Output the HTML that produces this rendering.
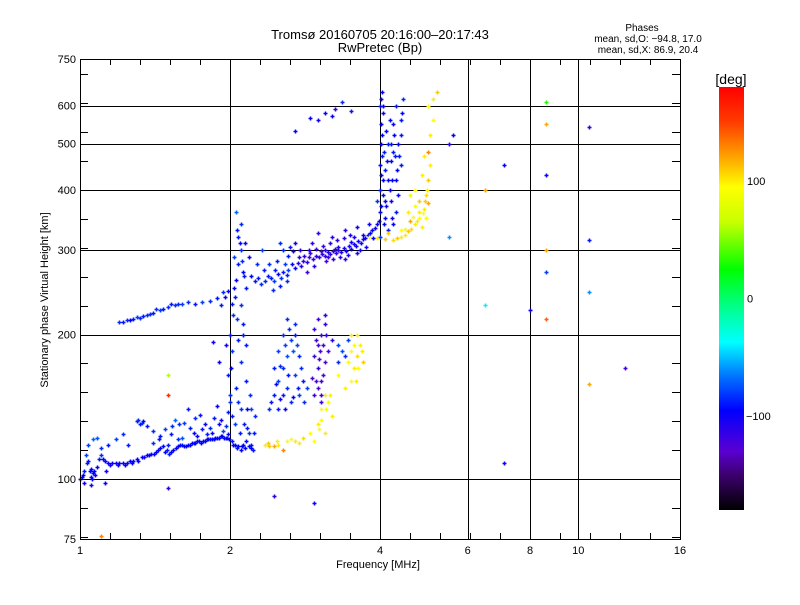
<!DOCTYPE html>
<html><head><meta charset="utf-8">
<style>
body{margin:0;background:#fff;}
svg text{font-family:"Liberation Sans",sans-serif;fill:#000;}
</style></head>
<body>
<svg id="chart" width="800" height="600" viewBox="0 0 800 600" xmlns="http://www.w3.org/2000/svg">
<defs>
<linearGradient id="cbgrad" x1="0" y1="1" x2="0" y2="0">
<stop offset="0" stop-color="rgb(0,0,0)"/>
<stop offset="0.083" stop-color="rgb(60,0,110)"/>
<stop offset="0.139" stop-color="rgb(90,0,210)"/>
<stop offset="0.236" stop-color="rgb(0,0,255)"/>
<stop offset="0.319" stop-color="rgb(0,120,255)"/>
<stop offset="0.397" stop-color="rgb(0,255,255)"/>
<stop offset="0.472" stop-color="rgb(0,255,150)"/>
<stop offset="0.569" stop-color="rgb(0,255,0)"/>
<stop offset="0.681" stop-color="rgb(200,255,0)"/>
<stop offset="0.764" stop-color="rgb(255,255,0)"/>
<stop offset="0.833" stop-color="rgb(255,165,0)"/>
<stop offset="0.917" stop-color="rgb(255,60,0)"/>
<stop offset="1" stop-color="rgb(255,0,0)"/>
</linearGradient>
</defs>
<text x="380" y="39" font-size="13" text-anchor="middle">Tromsø 20160705 20:16:00–20:17:43</text>
<text x="380" y="52" font-size="13" text-anchor="middle">RwPretec (Bp)</text>
<text x="642" y="31" font-size="10" text-anchor="middle">Phases</text>
<text x="648" y="42" font-size="10" text-anchor="middle">mean, sd,O: −94.8, 17.0</text>
<text x="648" y="53" font-size="10" text-anchor="middle">mean, sd,X:  86.9, 20.4</text>
<g id="grid"></g>
<g id="points"></g>
<g id="axes"></g>
<text x="378" y="568" font-size="11" text-anchor="middle">Frequency [MHz]</text>
<text transform="translate(48,300) rotate(-90)" font-size="11" text-anchor="middle">Stationary phase Virtual Height [km]</text>
<rect x="719" y="87" width="25" height="423" fill="url(#cbgrad)"/>
<text x="731" y="84" font-size="14" text-anchor="middle">[deg]</text>
<g id="cbticks"></g>
</svg>
<script>
const xTickLabels = [1, 2, 4, 6, 8, 10, 16];
const xGridValues = [2, 4, 6, 8, 10];
const yTickLabels = [75, 100, 200, 300, 400, 500, 600, 750];
const yGridValues = [100, 200, 300, 400, 500, 600];
const colorbarTicks = [100, 0, -100];

// [frequency MHz, height km, phase deg]
const lowerTrace = [[1.00,100,-95],[1.01,101,-95],[1.02,104,-90],[1.03,112,-80],[1.04,109,-90],[1.05,105,-95],[1.06,103,-95],[1.07,102,-100],[1.08,106,-95],[1.09,110,-90],[1.10,112,-85],[1.12,109,-95],[1.14,108,-100],[1.16,108,-100],[1.18,108,-100],[1.20,108,-100],[1.22,108,-100],[1.24,108,-95],[1.26,109,-95],[1.28,109,-100],[1.30,110,-95],[1.33,111,-95],[1.36,112,-95],[1.39,113,-100],[1.42,114,-95],[1.45,116,-95],[1.48,114,-95],[1.51,113,-90],[1.54,115,-95],[1.57,117,-95],[1.60,118,-90],[1.63,117,-95],[1.66,118,-95],[1.69,119,-95],[1.72,120,-95],[1.75,119,-95],[1.78,120,-95],[1.81,121,-95],[1.84,121,-95],[1.87,122,-95],[1.90,122,-95],[1.93,123,-95],[1.96,122,-95],[1.99,121,-95],[2.02,120,-90],[2.05,118,-95],[2.08,117,-95],[2.11,117,-95],[1.04,118,-80],[1.06,121,-70],[1.08,122,-75],[1.02,98,-100],[1.05,101,-95],[1.13,104,-100]];
const lowerTraceFill = [[1.015,102,-95],[1.035,108,-90],[1.045,104,-95],[1.055,100,-95],[1.065,104,-95],[1.11,110,-95],[1.15,107,-100],[1.19,107,-100],[1.23,107,-100],[1.27,108,-95],[1.31,109,-95],[1.345,111,-100],[1.375,112,-95],[1.405,113,-95],[1.435,115,-95],[1.465,117,-95],[1.495,115,-90],[1.525,114,-95],[1.555,116,-95],[1.585,118,-95],[1.615,117,-95],[1.645,118,-95],[1.675,119,-95],[1.705,119,-95],[1.735,120,-95],[1.765,120,-95],[1.795,121,-95],[1.825,121,-95],[1.855,121,-95],[1.885,122,-95],[1.915,123,-95],[1.945,122,-95],[1.975,122,-95],[2.03,118,-95],[2.07,116,-90],[2.10,115,-95],[2.14,116,-95],[2.18,117,-95],[2.20,118,-90]];
const upperScatter = [[1.10,116,-85],[1.14,118,-90],[1.18,121,-80],[1.22,124,-85],[1.25,118,-90],[1.30,132,-90],[1.33,131,-80],[1.36,129,-90],[1.40,126,-85],[1.44,121,-90],[1.48,127,-80],[1.52,124,-90],[1.55,133,-70],[1.58,130,-85],[1.62,131,-80],[1.66,128,-90],[1.70,134,-85],[1.74,136,-90],[1.78,130,-100],[1.82,128,-85],[1.86,134,-90],[1.90,130,-95],[1.94,126,-80],[1.98,138,-90],[2.00,145,-85],[1.60,122,-75],[1.72,123,-95],[1.84,125,-100],[1.50,118,-90],[1.40,119,-85],[1.65,140,-90],[1.88,142,-95],[1.31,133,-85],[1.32,130,-90],[1.34,132,-95],[1.53,129,-85],[1.69,125,-95],[1.76,127,-90],[1.92,133,-100],[1.96,129,-85],[2.02,135,-90],[1.45,123,-90],[1.57,121,-85],[1.80,124,-90],[1.98,124,-100]];
const verticalTrace = [[2.00,150,-85],[1.98,165,-90],[2.02,185,-80],[2.00,200,-90],[2.03,220,-85],[2.05,240,-90],[2.06,260,-95],[2.08,280,-90],[2.10,300,-85],[2.08,320,-90],[2.10,340,-85],[2.06,360,-70],[2.12,270,-95],[2.15,250,-90],[2.10,230,-85],[2.12,210,-90],[2.15,190,-90],[2.10,175,-85],[2.15,160,-90],[2.20,140,-80],[2.18,125,-85],[2.12,118,-95],[2.20,116,-95],[2.25,135,-85],[2.22,115,-90],[2.16,128,-90],[2.05,130,-80],[2.08,145,-85],[2.12,200,-90],[2.04,290,-80],[2.14,310,-95],[1.95,240,-95],[1.92,230,-90],[1.96,190,-100],[1.90,175,-100],[2.18,290,-95],[2.07,330,-90],[2.09,310,-95],[2.11,285,-85],[2.13,265,-90],[2.04,250,-95],[2.02,232,-90],[2.07,215,-85],[2.01,170,-95],[2.06,155,-90],[2.10,140,-85],[2.13,130,-90],[2.16,140,-95],[2.19,150,-85],[2.23,125,-90],[2.15,120,-95],[2.09,125,-90],[1.98,246,-95],[2.08,195,-90]];
const fTrace = [[2.20,265,-95],[2.28,262,-90],[2.35,258,-85],[2.42,262,-90],[2.50,268,-95],[2.56,270,-90],[2.62,272,-80],[2.70,275,-95],[2.78,278,-110],[2.86,283,-110],[2.94,287,-115],[3.02,290,-110],[3.10,292,-115],[3.18,294,-110],[3.26,296,-110],[3.34,297,-105],[3.42,299,-100],[3.50,302,-100],[3.58,306,-100],[3.66,311,-100],[3.74,318,-100],[3.82,326,-95],[3.90,334,-100],[3.98,345,-95],[3.10,300,-110],[3.30,305,-105],[3.50,312,-100],[3.70,322,-95],[2.90,296,-120],[2.75,290,-110],[2.92,310,-115],[3.20,320,-110],[3.40,330,-110],[3.60,335,-100],[3.00,325,-115],[2.62,292,-90],[2.40,280,-85],[2.32,300,-80],[2.52,310,-85],[2.70,310,-100],[3.40,287,-110],[3.60,296,-105],[3.05,298,-120],[3.15,290,-120],[3.25,302,-115],[2.82,292,-110],[2.46,272,-90],[2.58,280,-80],[3.80,340,-100],[3.55,320,-105],[2.85,270,-120],[2.95,278,-110]];
const fTraceFill = [[2.24,258,-90],[2.31,255,-85],[2.38,265,-90],[2.45,258,-80],[2.53,262,-85],[2.60,266,-90],[2.66,280,-95],[2.74,282,-110],[2.80,285,-115],[2.88,290,-120],[2.97,292,-115],[3.06,294,-115],[3.14,297,-110],[3.22,299,-115],[3.30,300,-110],[3.38,303,-105],[3.46,306,-105],[3.54,309,-100],[3.62,314,-100],[3.70,316,-100],[3.78,322,-100],[3.86,330,-95],[3.94,340,-100],[2.88,300,-110],[2.98,302,-120],[3.08,306,-115],[3.18,310,-110],[3.28,315,-115],[3.38,318,-110],[3.48,322,-105],[2.68,298,-100],[2.76,300,-110],[2.34,272,-90],[2.27,280,-85],[2.49,285,-90],[2.56,300,-85],[2.64,305,-90],[3.12,285,-120],[3.22,288,-115],[3.32,290,-110],[3.45,293,-105],[3.65,300,-100],[3.75,305,-100],[3.88,318,-95],[2.44,248,-85],[2.52,252,-90],[2.60,258,-85]];
const oCusp = [[4.00,360,-95],[4.00,400,-90],[4.00,450,-95],[4.02,500,-100],[4.02,550,-95],[4.00,600,-90],[4.03,640,-95],[4.10,380,-95],[4.15,420,-100],[4.20,460,-95],[4.20,500,-90],[4.25,550,-95],[4.30,600,-90],[4.10,350,-95],[4.15,330,-90],[4.20,380,-100],[4.30,420,-95],[4.40,450,-90],[4.35,500,-95],[4.40,560,-90],[4.45,620,-85],[4.30,360,-90],[4.25,340,-95],[4.00,320,-80],[4.05,420,-95],[4.08,480,-90],[4.12,530,-95],[4.05,580,-100],[4.18,400,-95],[4.28,470,-90],[4.35,390,-95],[3.95,380,-85],[4.40,520,-90],[4.02,370,-95],[4.01,430,-95],[4.03,470,-90],[4.04,520,-95],[4.02,620,-100],[4.06,390,-95],[4.09,440,-90],[4.12,370,-100],[4.14,460,-95],[4.16,500,-90],[4.18,560,-95],[4.22,420,-95],[4.24,480,-90],[4.26,520,-95],[4.33,440,-95],[4.37,470,-90],[4.42,580,-95],[4.22,350,-100],[4.08,340,-95],[4.06,600,-95]];
const xTrace = [[3.80,320,95],[3.95,318,100],[4.10,316,110],[4.25,315,105],[4.40,320,100],[4.55,328,110],[4.70,340,100],[4.80,350,95],[4.90,365,100],[4.95,390,105],[5.00,420,110],[5.05,450,100],[5.00,480,130],[5.05,520,100],[5.10,560,95],[5.10,620,100],[4.70,370,90],[4.55,360,100],[4.70,400,95],[4.80,380,110],[4.60,345,120],[4.90,470,100],[5.00,600,95],[5.20,640,110],[4.40,330,95],[4.50,332,90],[4.15,325,110],[4.85,335,100],[4.95,350,90],[5.00,375,120],[4.60,390,85],[4.85,430,100],[4.32,318,110],[4.48,322,100],[4.62,332,105],[4.75,345,100],[4.88,358,95],[4.98,400,100],[4.92,380,110],[4.78,360,100],[4.66,352,95]];
const lowerFTrace = [[1.20,212,-85],[1.24,214,-85],[1.28,215,-90],[1.32,217,-85],[1.36,220,-85],[1.40,222,-90],[1.45,225,-80],[1.50,228,-85],[1.55,230,-85],[1.60,232,-80],[1.65,234,-85],[1.70,232,-90],[1.76,234,-80],[1.82,235,-85],[1.88,238,-90],[1.94,245,-85],[1.30,218,-80],[1.42,226,-85],[1.52,232,-90],[1.22,212,-90],[1.26,214,-95],[1.34,219,-90],[1.38,221,-85],[1.47,226,-90],[1.57,231,-85]];
const loopTrace = [[2.40,140,-85],[2.45,150,-90],[2.50,160,-80],[2.55,170,-85],[2.60,180,-75],[2.65,195,-80],[2.70,210,-85],[2.55,150,-90],[2.65,145,-85],[2.75,150,-80],[2.80,160,-90],[2.60,155,-85],[2.70,165,-80],[2.75,180,-85],[2.70,200,-90],[2.60,215,-85],[2.50,185,-80],[2.55,200,-85],[2.45,170,-90],[2.82,145,-85],[2.50,140,-90],[2.86,155,-80],[2.62,165,-90],[2.68,185,-75],[2.58,140,-95],[2.42,145,-90],[2.47,158,-95],[2.52,172,-85],[2.58,190,-80],[2.63,205,-85],[2.72,190,-80],[2.78,170,-85],[2.74,155,-90],[2.68,148,-95],[2.52,147,-100]];
const purpleCluster = [[2.95,150,-120],[3.00,155,-125],[3.05,160,-120],[3.00,170,-115],[2.95,180,-120],[3.00,190,-125],[3.05,200,-120],[3.10,210,-115],[3.00,215,-120],[3.10,175,-125],[3.15,185,-120],[3.20,195,-115],[3.05,145,-120],[2.92,162,-125],[2.95,205,-120],[3.10,220,-110],[3.02,178,-120],[3.08,165,-125],[2.97,195,-120],[3.03,185,-125],[3.07,190,-120],[3.12,200,-115],[2.98,160,-125],[3.04,150,-120]];
const yellowLow = [[2.35,118,100],[2.40,117,110],[2.45,117,120],[2.50,118,100],[2.60,120,95],[2.70,120,100],[2.80,122,105],[2.90,125,95],[3.00,130,100],[3.05,140,95],[3.10,150,100],[3.15,145,90],[3.20,135,100],[2.95,120,95],[3.10,125,100],[2.55,115,130],[3.05,133,90],[2.38,119,110],[2.48,120,100],[2.65,121,95],[2.75,119,100],[3.02,127,95],[3.12,140,90],[3.18,150,100]];
const yellowHigh = [[3.40,155,100],[3.50,160,95],[3.55,170,100],[3.60,180,105],[3.65,190,100],[3.50,185,95],[3.45,175,90],[3.60,200,100],[3.70,175,110],[3.50,200,100],[3.30,165,95],[3.58,160,100],[3.62,170,95],[3.68,185,100],[3.55,190,90]];
const cyanCluster = [[3.30,190,-80],[3.35,185,-75],[3.40,180,-85],[3.45,195,-80],[3.30,175,-85]];
const outliers = [[2.70,530,-95],[2.90,565,-95],[3.00,560,-100],[3.10,580,-95],[3.20,570,-100],[3.25,590,-110],[3.35,610,-85],[3.50,585,-90],[2.45,92,-110],[2.95,89,-100],[1.05,97,-100],[1.12,98,-95],[1.50,96,-110],[1.85,193,-100],[5.50,500,-110],[5.60,520,-95],[6.50,400,120],[7.10,450,-95],[7.10,108,-100],[6.50,230,-40],[5.50,320,-60],[8.00,225,-100],[8.60,215,140],[8.60,270,-80],[8.60,300,120],[8.60,430,-100],[8.60,550,120],[8.60,610,30],[10.50,540,-110],[10.50,315,-90],[10.50,245,-60],[10.50,158,120],[12.40,170,-120],[1.10,76,130],[1.50,165,60],[1.50,150,160]];

const allClusters = [lowerTrace, lowerTraceFill, upperScatter, verticalTrace, fTrace, fTraceFill, oCusp, xTrace, lowerFTrace, loopTrace, purpleCluster, yellowLow, yellowHigh, cyanCluster, outliers];

const PL = 80, PR = 680, PT = 59, PB = 539;
const FMIN = 1, FMAX = 16, HMIN = 75, HMAX = 750;
function xScale(f){ return PL + (Math.log(f/FMIN)/Math.log(FMAX/FMIN))*(PR-PL); }
function yScale(h){ return PB - (Math.log(h/HMIN)/Math.log(HMAX/HMIN))*(PB-PT); }
function cbScale(p){ return 87 + (180-p)/360*423; }

const stops = [[-180,0,0,0],[-150,60,0,110],[-130,90,0,210],[-95,0,0,255],[-65,0,120,255],[-37,0,255,255],[-10,0,255,150],[25,0,255,0],[65,200,255,0],[95,255,255,0],[120,255,165,0],[150,255,60,0],[180,255,0,0]];
function phaseColor(p){
  p = Math.max(-180, Math.min(180, p));
  for (let i=0;i<stops.length-1;i++){
    const a=stops[i], b=stops[i+1];
    if (p>=a[0] && p<=b[0]){
      const t=(p-a[0])/(b[0]-a[0]);
      return 'rgb('+Math.round(a[1]+t*(b[1]-a[1]))+','+Math.round(a[2]+t*(b[2]-a[2]))+','+Math.round(a[3]+t*(b[3]-a[3]))+')';
    }
  }
  return 'rgb(255,0,0)';
}
const NS='http://www.w3.org/2000/svg';
function mk(tag, attrs, parent){
  const e=document.createElementNS(NS,tag);
  for (const k in attrs) e.setAttribute(k, attrs[k]);
  parent.appendChild(e); return e;
}
const grid=document.getElementById('grid');
const axes=document.getElementById('axes');
const pts=document.getElementById('points');
const cbt=document.getElementById('cbticks');

xGridValues.forEach(v=>{
  const x=Math.round(xScale(v))+0.5;
  const l=mk('line',{x1:x,y1:PT,x2:x,y2:PB,stroke:'#000','stroke-width':1},grid);
  
  
});
yGridValues.forEach(v=>{
  const y=Math.round(yScale(v))+0.5;
  const l=mk('line',{x1:PL,y1:y,x2:PR,y2:y,stroke:'#000','stroke-width':1},grid);
  
  
});

allClusters.forEach(cl=>{
  cl.forEach(d=>{
    const x=Math.round(xScale(d[0]))+0.5, y=Math.round(yScale(d[1]))+0.5;
    const c=phaseColor(d[2]);
    const p=mk('path',{d:'M'+(x-2)+' '+y+'h4M'+x+' '+(y-2)+'v4',stroke:c,'stroke-width':1.5,fill:'none'},pts);
    
    
  });
});

const frame=mk('rect',{x:PL+0.5,y:PT+0.5,width:PR-PL,height:PB-PT,fill:'none',stroke:'#000','stroke-width':1},axes);



for (let k=1;k<20;k++){
  const f=Math.pow(2,k/5);
  const x=Math.round(xScale(f))+0.5;
  const t1=mk('line',{x1:x,y1:PB,x2:x,y2:PB-6,stroke:'#000'},axes);
  
  
  const t2=mk('line',{x1:x,y1:PT,x2:x,y2:PT+6,stroke:'#000'},axes);
  
  
}
for (let k=-2;k<=17;k++){
  const h=100*Math.pow(2,k/5);
  if (h<=HMIN||h>=HMAX) continue;
  const y=Math.round(yScale(h))+0.5;
  const t1=mk('line',{x1:PL,y1:y,x2:PL+8,y2:y,stroke:'#000'},axes);
  
  
  const t2=mk('line',{x1:PR,y1:y,x2:PR-8,y2:y,stroke:'#000'},axes);
  
  
}
xTickLabels.forEach(v=>{
  const t=mk('text',{x:xScale(v),y:554,'font-size':11,'text-anchor':'middle'},axes);
  t.textContent=v;
  
  
});
yTickLabels.forEach(v=>{
  const t=mk('text',{x:76,y:yScale(v)+4,'font-size':11,'text-anchor':'end'},axes);
  t.textContent=v;
  
  
});
colorbarTicks.forEach(v=>{
  const t=mk('text',{x:v<0?746:747,y:cbScale(v)+4,'font-size':11,'text-anchor':'start'},cbt);
  t.textContent=v<0?'−'+Math.abs(v):v;
  
  
});
</script>
</body></html>
